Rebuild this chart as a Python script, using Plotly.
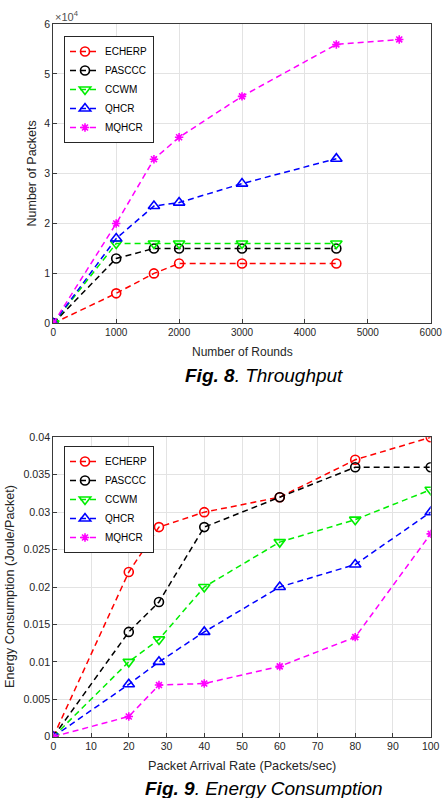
import plotly.graph_objects as go

# ---------------- Data ----------------
series_names = ["ECHERP", "PASCCC", "CCWM", "QHCR", "MQHCR"]

# Fig. 8 Throughput (Number of Packets vs Number of Rounds)
rounds_main = [0, 1000, 1600, 2000, 3000, 4500]
rounds_mqhcr = [0, 1000, 1600, 2000, 3000, 4500, 5500]
thr_echerp = [0, 6000, 10000, 12000, 12000, 12000]
thr_pasccc = [0, 13000, 15000, 15000, 15000, 15000]
thr_ccwm = [0, 16000, 16000, 16000, 16000, 16000]
thr_qhcr = [0, 17000, 23500, 24200, 28000, 33000]
thr_mqhcr = [0, 20000, 32900, 37300, 45500, 55900, 56900]

# Fig. 9 Energy Consumption vs Packet Arrival Rate
rate = [0, 20, 28, 40, 60, 80, 100]
en_echerp = [0, 0.022, 0.028, 0.030, 0.032, 0.037, 0.040]
en_pasccc = [0, 0.014, 0.018, 0.028, 0.032, 0.036, 0.036]
en_ccwm = [0, 0.010, 0.013, 0.020, 0.026, 0.029, 0.033]
en_qhcr = [0, 0.007, 0.010, 0.014, 0.020, 0.023, 0.030]
en_mqhcr = [0, 0.0027, 0.0069, 0.0071, 0.0094, 0.0133, 0.0271]

top_xticks = [0, 1000, 2000, 3000, 4000, 5000, 6000]
top_yticks = [0, 10000, 20000, 30000, 40000, 50000, 60000]
top_ytext = ["0", "1", "2", "3", "4", "5", "6"]
bot_xticks = [0, 10, 20, 30, 40, 50, 60, 70, 80, 90, 100]
bot_yticks = [0, 0.005, 0.01, 0.015, 0.02, 0.025, 0.03, 0.035, 0.04]
bot_ytext = ["0", "0.005", "0.01", "0.015", "0.02", "0.025", "0.03", "0.035", "0.04"]

# ---------------- Styles ----------------
colors = ["#FF0000", "#000000", "#00EE00", "#0000FF", "#FF00FF"]
symbols = ["circle-open", "circle-open", "triangle-down-open", "triangle-up-open", "asterisk-open"]
sizes = [9, 9, 10, 10, 7]
FONT = "Liberation Sans, Arial, sans-serif"
W, H = 446, 798

fig = go.Figure()

top_x = [rounds_main, rounds_main, rounds_main, rounds_main, rounds_mqhcr]
top_y = [thr_echerp, thr_pasccc, thr_ccwm, thr_qhcr, thr_mqhcr]
bot_y = [en_echerp, en_pasccc, en_ccwm, en_qhcr, en_mqhcr]

for i, name in enumerate(series_names):
    fig.add_trace(go.Scatter(
        x=top_x[i], y=top_y[i], name=name, mode="lines+markers",
        line=dict(color=colors[i], width=1.5, dash="6px,4px"),
        marker=dict(symbol=symbols[i], size=sizes[i], color=colors[i],
                    line=dict(width=1.6, color=colors[i])),
        xaxis="x", yaxis="y", legend="legend"))
for i, name in enumerate(series_names):
    fig.add_trace(go.Scatter(
        x=rate, y=bot_y[i], name=name, mode="lines+markers",
        line=dict(color=colors[i], width=1.5, dash="6px,4px"),
        marker=dict(symbol=symbols[i], size=sizes[i], color=colors[i],
                    line=dict(width=1.6, color=colors[i])),
        xaxis="x2", yaxis="y2", legend="legend2"))

xd = [53.3 / W, 430.7 / W]
top_yd = [1 - 323.3 / H, 1 - 24 / H]
bot_yd = [1 - 736.7 / H, 1 - 437.3 / H]


def axis_style(fs):
    return dict(showline=True, mirror=True, linecolor="#3a3a3a", linewidth=1,
                showgrid=True, gridcolor="#E3E3E3", gridwidth=1,
                ticks="inside", ticklen=4, tickcolor="#3a3a3a", automargin=False,
                zeroline=False, tickfont=dict(family=FONT, size=fs, color="#262626"))


fig.update_layout(
    width=W, height=H, autosize=False, margin=dict(l=0, r=0, t=0, b=0, pad=0),
    paper_bgcolor="white", plot_bgcolor="white",
    font=dict(family=FONT, color="#262626"),
    xaxis=dict(domain=xd, range=[0, 6000], tickvals=top_xticks, anchor="y", **axis_style(10)),
    yaxis=dict(domain=top_yd, range=[0, 60000], tickvals=top_yticks, ticktext=top_ytext,
               anchor="x", **axis_style(10.5)),
    xaxis2=dict(domain=xd, range=[0, 100], tickvals=bot_xticks, anchor="y2", **axis_style(10.5)),
    yaxis2=dict(domain=bot_yd, range=[0, 0.04], tickvals=bot_yticks, ticktext=bot_ytext,
                anchor="x2", **axis_style(10.7)),
    legend=dict(x=64 / W, y=1 - 36 / H, xanchor="left", yanchor="top",
                bgcolor="white", bordercolor="#262626", borderwidth=1,
                font=dict(family=FONT, size=10, color="#000000"), itemwidth=30,
                tracegroupgap=0),
    legend2=dict(x=64 / W, y=1 - 446 / H, xanchor="left", yanchor="top",
                 bgcolor="white", bordercolor="#262626", borderwidth=1,
                 font=dict(family=FONT, size=10, color="#000000"), itemwidth=30,
                 tracegroupgap=0),
    showlegend=True,
)

ann = [
    dict(text="×10<sup>4</sup>", x=53 / W, y=1 - 16 / H, xanchor="left", yanchor="middle",
         font=dict(size=11, color="#505050")),
    dict(text="Number of Packets", x=31 / W, y=1 - 173.5 / H, textangle=-90,
         xanchor="center", yanchor="middle", font=dict(size=12.5, color="#262626")),
    dict(text="Number of Rounds", x=242 / W, y=1 - 352.5 / H,
         xanchor="center", yanchor="middle", font=dict(size=12, color="#262626")),
    dict(text="<b><i>Fig. 8</i></b><i>. Throughput</i>", x=264 / W, y=1 - 375 / H,
         xanchor="center", yanchor="middle", font=dict(size=19, color="#000000")),
    dict(text="Energy Consumption (Joule/Packet)", x=10 / W, y=1 - 587 / H, textangle=-90,
         xanchor="center", yanchor="middle", font=dict(size=12.7, color="#262626")),
    dict(text="Packet Arrival Rate (Packets/sec)", x=242 / W, y=1 - 765.5 / H,
         xanchor="center", yanchor="middle", font=dict(size=12.7, color="#262626")),
    dict(text="<b><i>Fig. 9</i></b><i>. Energy Consumption</i>", x=264 / W, y=1 - 788.5 / H,
         xanchor="center", yanchor="middle", font=dict(size=19, color="#000000")),
]
for a in ann:
    a.update(xref="paper", yref="paper", showarrow=False)
    a["font"]["family"] = FONT
fig.update_layout(annotations=ann)

fig.write_html("out.html", config={"responsive": False, "displayModeBar": False})
